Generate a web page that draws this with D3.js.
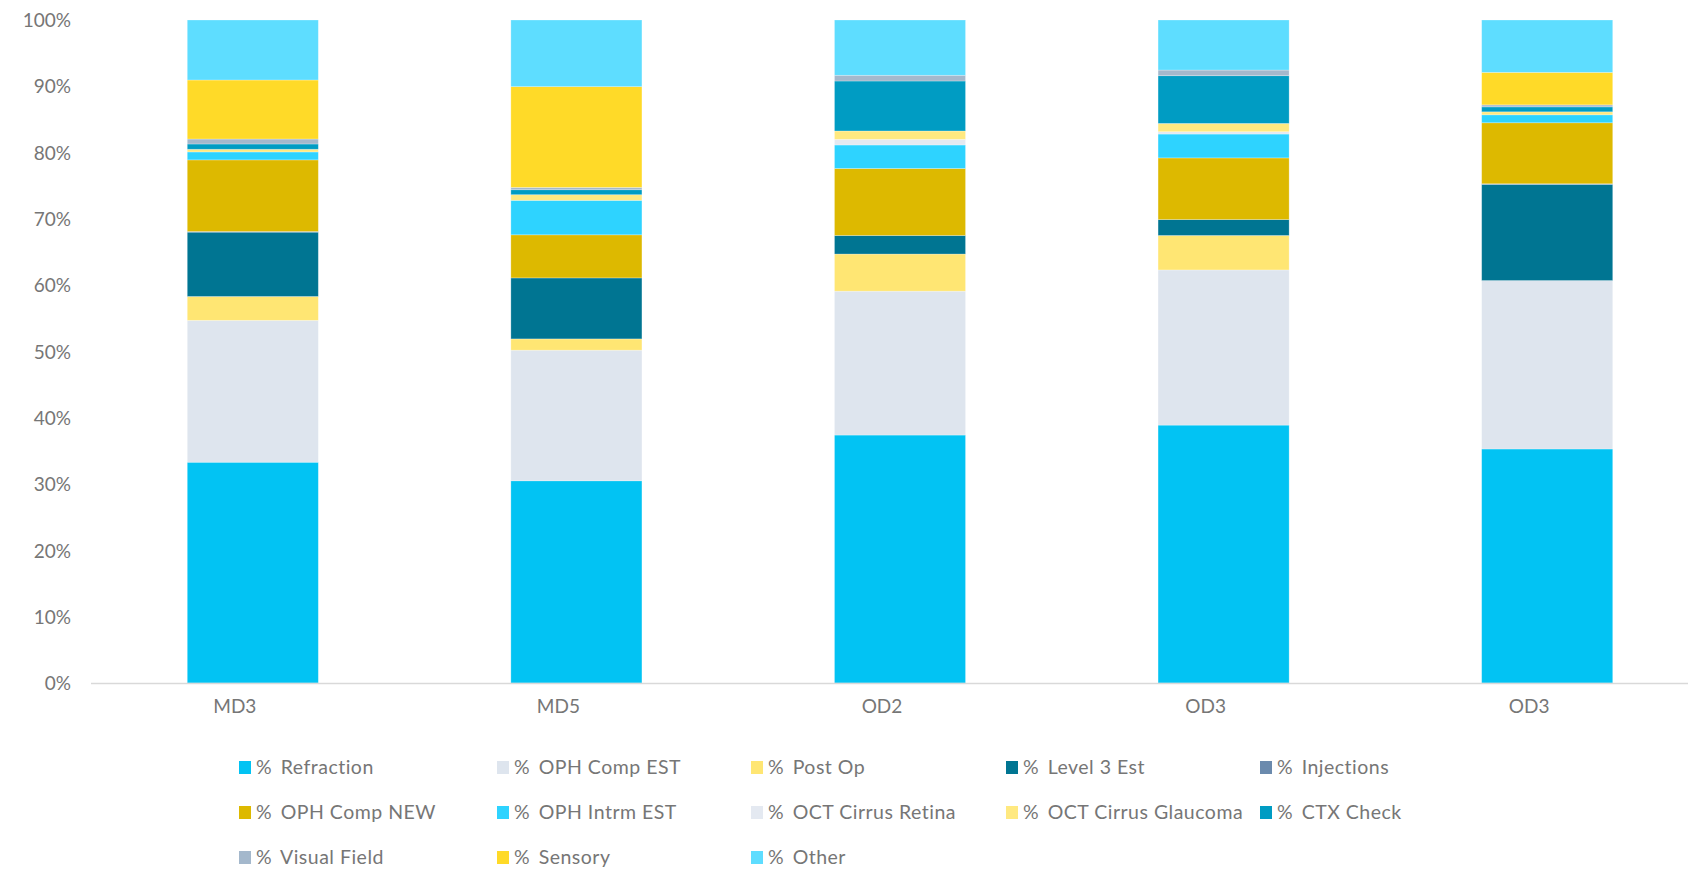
<!DOCTYPE html>
<html>
<head>
<meta charset="utf-8">
<script src="https://cdn.jsdelivr.net/npm/d3@7/dist/d3.min.js"></script>
<style>
  html, body { margin: 0; padding: 0; background: #fff; }
  svg { display: block; }
  text { font-family: Lato, "Open Sans", sans-serif; fill: #767676; }
</style>
</head>
<body>
<svg id="chart" width="1688" height="869"></svg>
<script>
// ---- data ----
const categories = ["MD3", "MD5", "OD2", "OD3", "OD3"];
const seriesNames = ["% Refraction", "% OPH Comp EST", "% Post Op", "% Level 3 Est", "% Injections",
  "% OPH Comp NEW", "% OPH Intrm EST", "% OCT Cirrus Retina", "% OCT Cirrus Glaucoma", "% CTX Check",
  "% Visual Field", "% Sensory", "% Other"];
const refraction    = [33.3, 30.5, 37.4, 38.9, 35.3];
const ophCompEst    = [21.4, 19.7, 21.7, 23.4, 25.4];
const postOp        = [3.6, 1.7, 5.6, 5.2, 0.0];
const level3Est     = [9.7, 9.2, 2.8, 2.4, 14.5];
const injections    = [0.1, 0.0, 0.0, 0.0, 0.1];
const ophCompNew    = [10.8, 6.5, 10.1, 9.3, 9.2];
const ophIntrmEst   = [1.2, 5.2, 3.55, 3.6, 1.2];
const octRetina     = [0.0, 0.0, 0.85, 0.35, 0.0];
const octGlaucoma   = [0.4, 0.85, 1.26, 1.25, 0.45];
const ctxCheck      = [0.8, 0.75, 7.54, 7.2, 0.75];
const visualField   = [0.75, 0.35, 0.86, 0.85, 0.3];
const sensory       = [8.9, 15.2, 0.0, 0.0, 4.9];
const other         = [9.05, 10.05, 8.34, 7.55, 7.9];
const yTicks = [0, 10, 20, 30, 40, 50, 60, 70, 80, 90, 100];
const colors = ["#02C3F3", "#DEE5EE", "#FFE673", "#007592", "#6B8AAD", "#DDB900", "#2ED3FF",
  "#E4E9F1", "#FFE980", "#009CC3", "#A4B8CC", "#FFDA28", "#5EDDFF"];

const seriesValues = [refraction, ophCompEst, postOp, level3Est, injections, ophCompNew, ophIntrmEst,
  octRetina, octGlaucoma, ctxCheck, visualField, sensory, other];

// ---- build table ----
const table = categories.map((c, i) => {
  const row = { idx: i, cat: c };
  seriesNames.forEach((s, j) => row[s] = seriesValues[j][i]);
  return row;
});
const stacked = d3.stack().keys(seriesNames)(table);

const svg = d3.select("#chart");
const x = d3.scaleBand().domain(d3.range(categories.length)).range([91, 1709]).paddingInner(0.595).paddingOuter(0.2975);
const y = d3.scaleLinear().domain([0, 100]).range([683, 20]);

// bars
svg.append("g").selectAll("g").data(stacked).join("g")
  .attr("fill", (d, i) => colors[i])
  .selectAll("rect").data(d => d).join("rect")
  .attr("x", d => x(d.data.idx))
  .attr("width", x.bandwidth())
  .attr("y", d => y(d[1]))
  .attr("height", d => Math.max(0, y(d[0]) - y(d[1])))
  .attr("stroke", "rgba(255,255,255,0.35)")
  .attr("stroke-width", 0.75);

// baseline
svg.append("line").attr("x1", 91).attr("x2", 1688).attr("y1", y(0) + 0.5).attr("y2", y(0) + 0.5)
  .attr("stroke", "#D9D9D9").attr("stroke-width", 1.5);

// y axis
const yAxis = svg.append("g").attr("transform", "translate(71,0)")
  .call(d3.axisLeft(y).tickValues(yTicks).tickFormat(d => d + "%").tickSize(0).tickPadding(0));
yAxis.select(".domain").remove();
yAxis.selectAll("text").style("font-size", "19px").attr("fill", "#767676").attr("dy", "0.35em");

// x axis
const xAxis = svg.append("g").attr("transform", "translate(0,700)")
  .call(d3.axisBottom(x).tickFormat(i => categories[i]).tickSize(0).tickPadding(0));
xAxis.select(".domain").remove();
xAxis.selectAll("text").style("font-size", "19px").attr("fill", "#767676").attr("dx", -18).attr("dy", "0.7em");

// legend
const colX = [239, 497, 751, 1006, 1260];
const rowY = [767, 812, 857];
const leg = svg.append("g").selectAll("g").data(seriesNames).join("g")
  .attr("transform", (d, i) => `translate(${colX[i % 5]},${rowY[Math.floor(i / 5)]})`);
leg.append("rect").attr("x", 0).attr("y", -6).attr("width", 12).attr("height", 13).attr("fill", (d, i) => colors[i]);
const lt = leg.append("text").attr("x", 17).attr("y", 0).attr("dy", "0.36em")
  .style("font-size", "19.5px").style("letter-spacing", "0.5px");
lt.append("tspan").text(d => d.slice(0, 1));
lt.append("tspan").attr("dx", 3).text(d => d.slice(1));
</script>
</body>
</html>
